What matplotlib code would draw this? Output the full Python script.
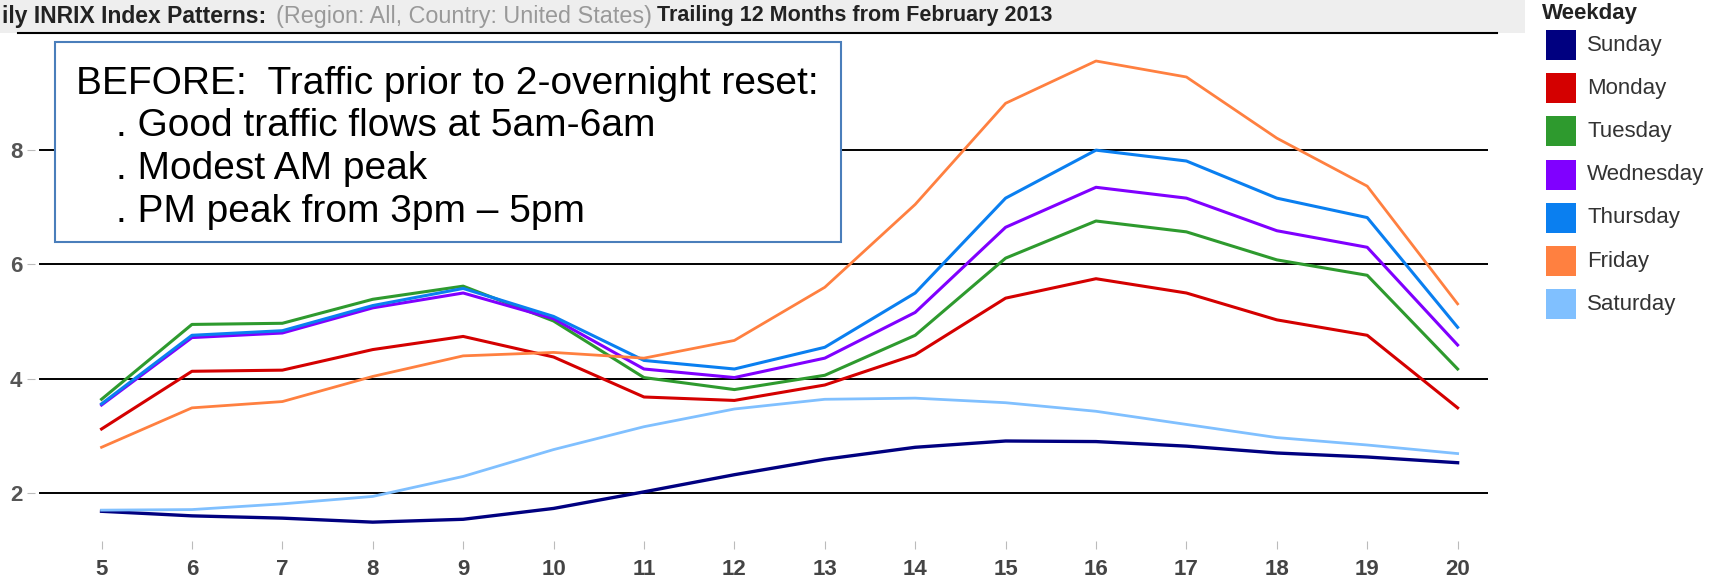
import matplotlib.pyplot as plt
from matplotlib.patches import Rectangle
from matplotlib.lines import Line2D

plt.rcParams['font.family'] = ['Liberation Sans', 'DejaVu Sans']

# hour of day and average INRIX index per weekday
hours = [5, 6, 7, 8, 9, 10, 11, 12, 13, 14, 15, 16, 17, 18, 19, 20]
sunday = [1.68, 1.60, 1.56, 1.49, 1.54, 1.73, 2.02, 2.32, 2.59, 2.80, 2.91, 2.90, 2.82, 2.70, 2.63, 2.53]
monday = [3.12, 4.13, 4.15, 4.51, 4.74, 4.38, 3.68, 3.62, 3.89, 4.42, 5.41, 5.75, 5.50, 5.03, 4.76, 3.49]
tuesday = [3.64, 4.95, 4.97, 5.39, 5.62, 5.01, 4.02, 3.81, 4.06, 4.76, 6.11, 6.76, 6.57, 6.08, 5.81, 4.17]
wednesday = [3.54, 4.72, 4.80, 5.24, 5.50, 5.05, 4.17, 4.02, 4.36, 5.16, 6.65, 7.35, 7.16, 6.59, 6.30, 4.59]
thursday = [3.56, 4.76, 4.84, 5.28, 5.58, 5.09, 4.32, 4.17, 4.55, 5.50, 7.16, 8.00, 7.81, 7.16, 6.82, 4.90]
friday = [2.80, 3.49, 3.60, 4.04, 4.40, 4.46, 4.36, 4.67, 5.60, 7.05, 8.82, 9.56, 9.28, 8.21, 7.37, 5.31]
saturday = [1.70, 1.71, 1.81, 1.94, 2.29, 2.76, 3.16, 3.47, 3.64, 3.66, 3.58, 3.43, 3.20, 2.97, 2.84, 2.69]

days = ['Sunday', 'Monday', 'Tuesday', 'Wednesday', 'Thursday', 'Friday', 'Saturday']
series = [sunday, monday, tuesday, wednesday, thursday, friday, saturday]
colors = ['#000080', '#d40000', '#2e9a2e', '#8000ff', '#0a7ff0', '#ff8040', '#80c0ff']
widths = [2.4, 2.2, 2.2, 2.2, 2.2, 2.0, 2.0]
yticks = [2, 4, 6, 8]

notes = ['BEFORE:  Traffic prior to 2-overnight reset:',
         '. Good traffic flows at 5am-6am',
         '. Modest AM peak',
         '. PM peak from 3pm \u2013 5pm']

W, H = 1712, 587
fig = plt.figure(figsize=(W / 100, H / 100), dpi=100)


def fx(px):
    return px / W


def fy(py):
    return 1 - py / H


ax = fig.add_axes([fx(35), fy(541), fx(1488) - fx(35), fy(33) - fy(541)])
ax.set_facecolor('none')

for v in yticks:
    ax.axhline(v, xmin=5 / 1453, color='black', lw=1.4, zorder=1)

for vals, c, lw in zip(series, colors, widths):
    ax.plot(hours, vals, color=c, lw=lw, zorder=3, solid_joinstyle='round')

ax.set_xlim(4.264, 20.336)
ax.set_ylim(1.16, 10.05)
ax.set_xticks(hours)
ax.set_yticks(yticks)
ax.tick_params(axis='x', length=6, width=0.8, color='#bbbbbb', pad=7,
               labelsize=16, labelcolor='#444444')
ax.tick_params(axis='y', length=6, width=0.8, color='#bbbbbb', pad=3,
               labelsize=16, labelcolor='#555555')
for lab in ax.get_xticklabels() + ax.get_yticklabels():
    lab.set_fontweight('bold')
for s in ax.spines.values():
    s.set_visible(False)

# header band with title and rule
fig.add_artist(Rectangle((0, fy(33)), fx(1525), 1 - fy(33), transform=fig.transFigure,
                         facecolor='#eeeeee', edgecolor='none', zorder=-1))
fig.add_artist(Line2D([fx(18), fx(1497)], [fy(33), fy(33)], color='black', lw=1.5))
fig.text(fx(2), fy(16), 'ily INRIX Index Patterns:', fontsize=16.5, fontweight='bold',
         color='#222222', va='center')
fig.text(fx(276), fy(16), '(Region: All, Country: United States)', fontsize=16.8,
         color='#999999', va='center')
fig.text(fx(657), fy(16), 'Trailing 12 Months from February 2013', fontsize=15.5,
         fontweight='bold', color='#222222', va='center')

# note box
fig.add_artist(Rectangle((fx(55), fy(242)), fx(841) - fx(55), fy(41.5) - fy(242),
                         transform=fig.transFigure, facecolor='white',
                         edgecolor='#4a7ebb', lw=1.5, zorder=5))
note_x = [76, 116, 116, 116]
note_y = [84, 126, 169, 212]
for t, x, y in zip(notes, note_x, note_y):
    fig.text(fx(x), fy(y), t, fontsize=28, color='black', va='center', zorder=6)

# legend
fig.text(fx(1542), fy(13), 'Weekday', fontsize=16, fontweight='bold',
         color='#222222', va='center')
for i, (d, c) in enumerate(zip(days, colors)):
    yc = 45 + i * 43.2
    fig.add_artist(Rectangle((fx(1546), fy(yc + 15)), fx(30), 30 / H,
                             transform=fig.transFigure, facecolor=c, edgecolor='none'))
    fig.text(fx(1587), fy(yc), d, fontsize=16, color='#333333', va='center')

fig.savefig('out.png', dpi=100)
